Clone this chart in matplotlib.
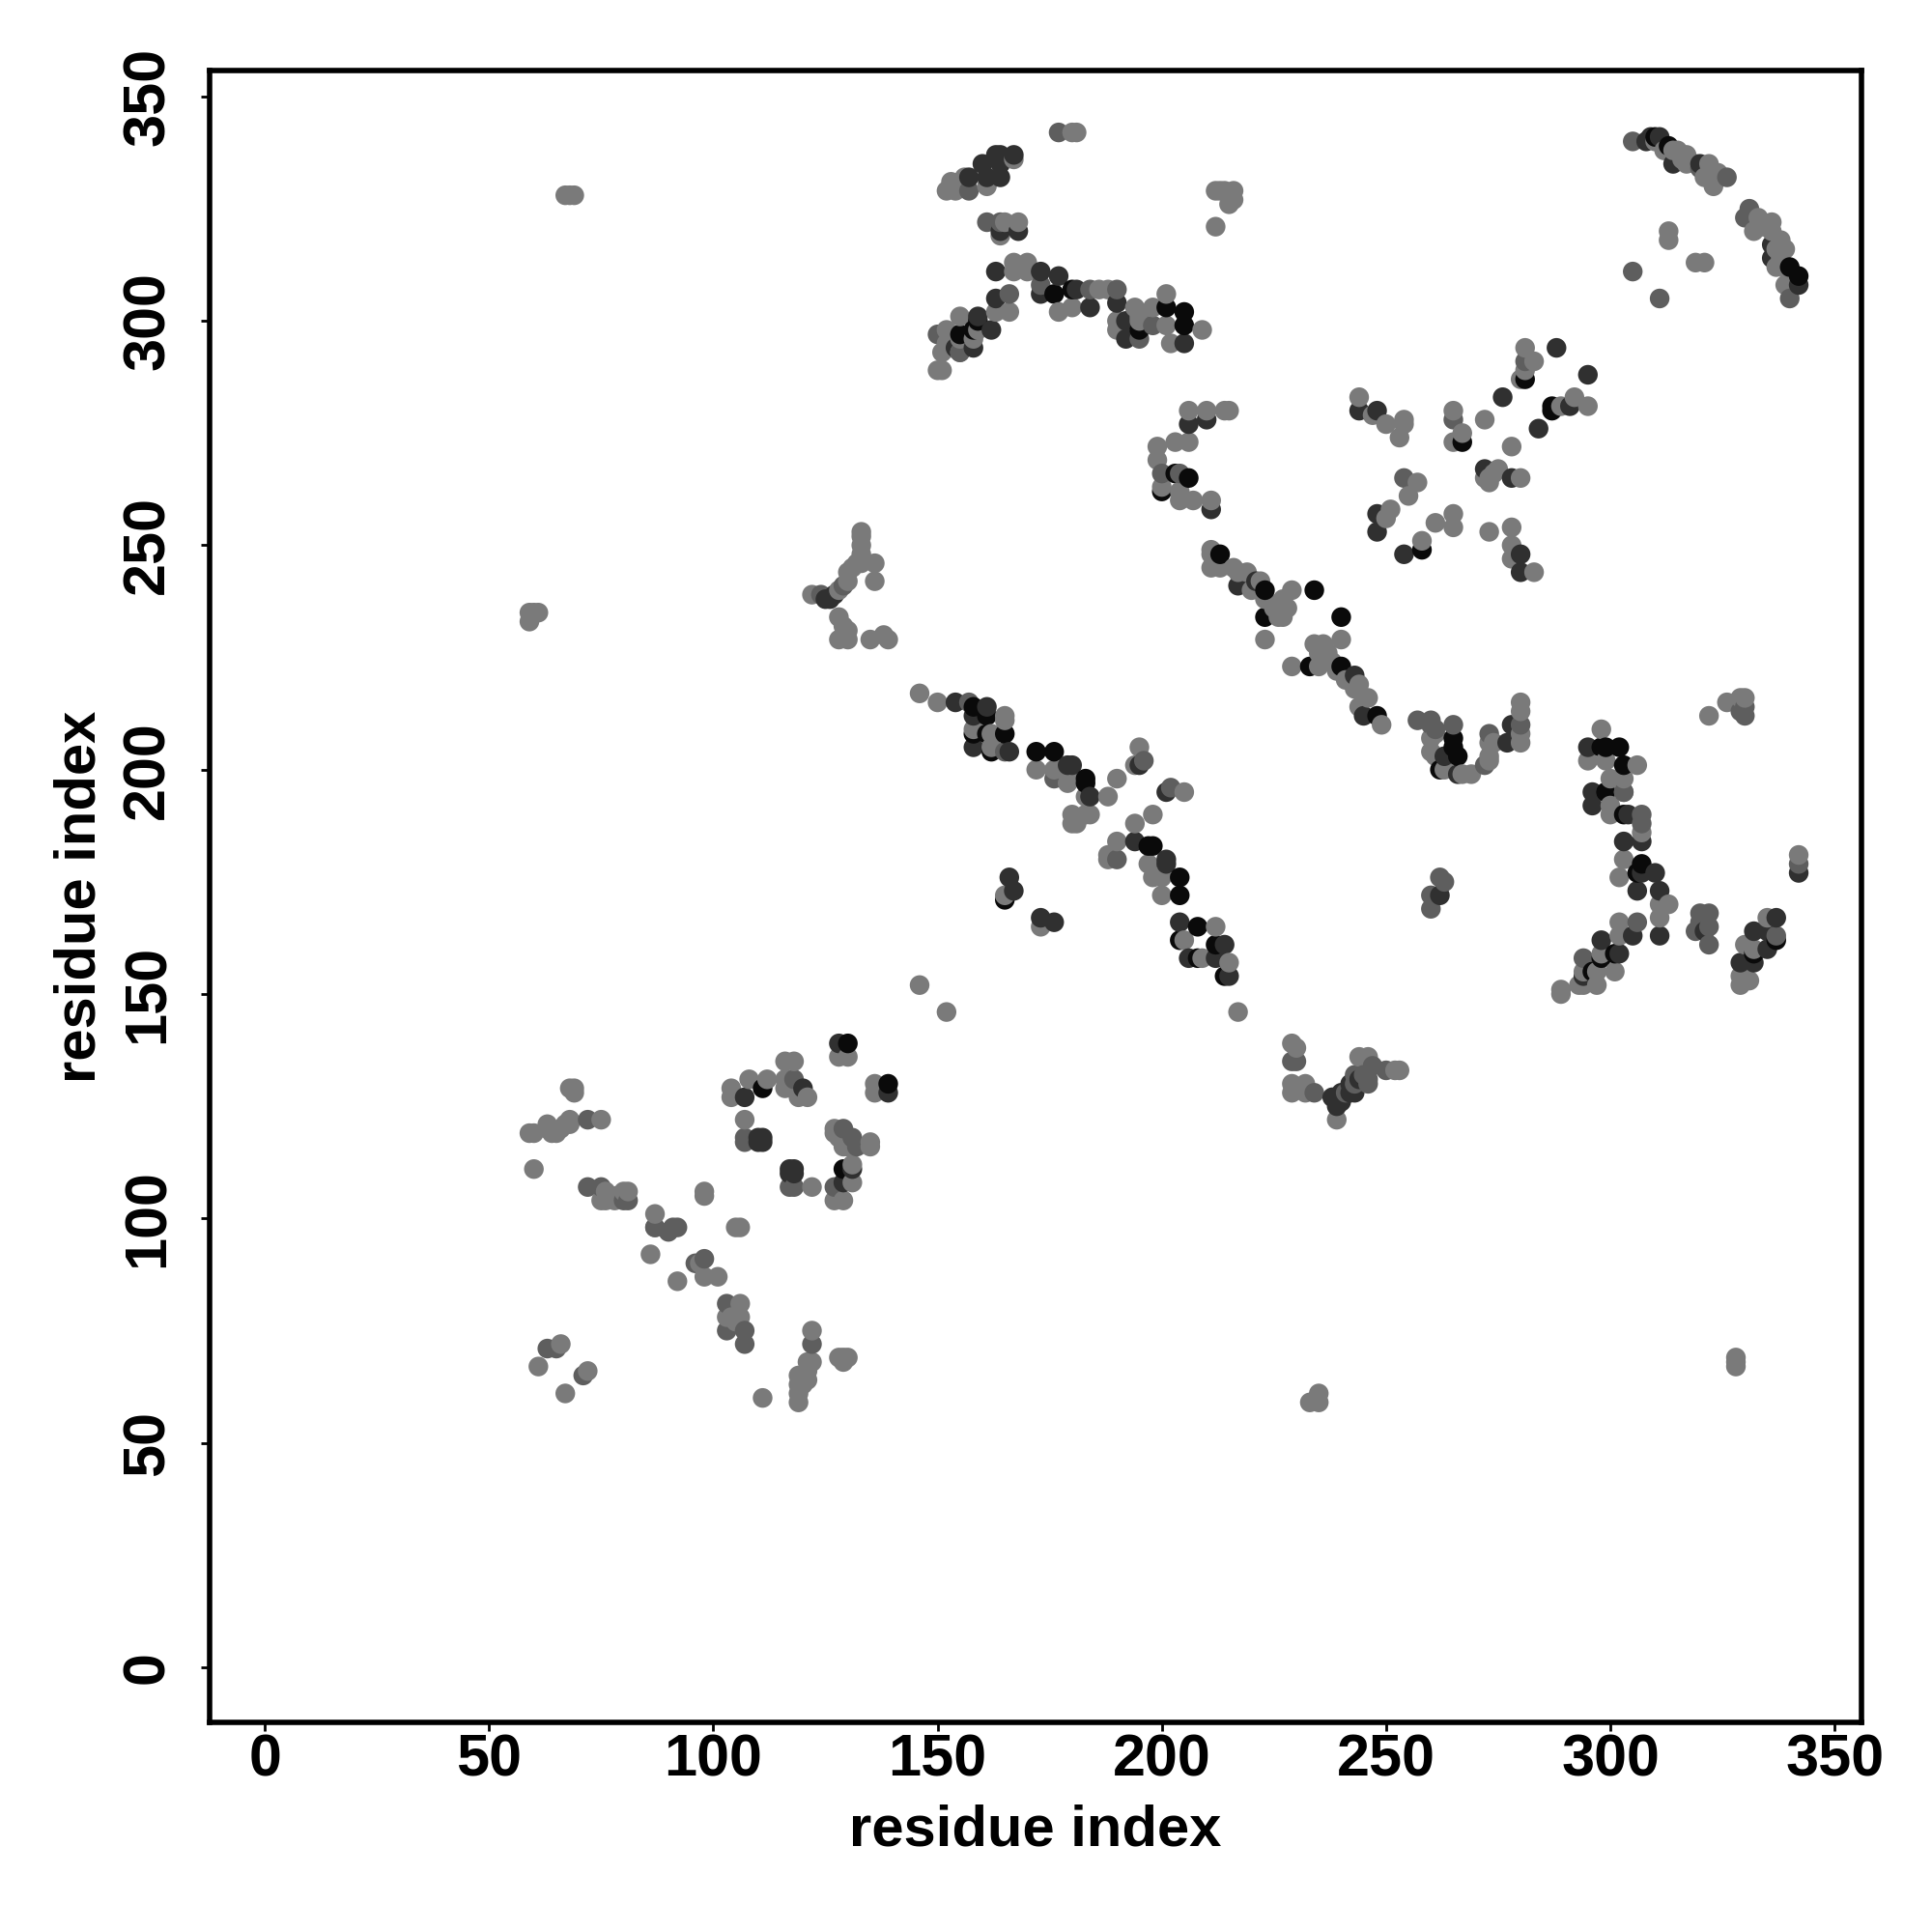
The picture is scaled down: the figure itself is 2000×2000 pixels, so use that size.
import numpy as np
import matplotlib
matplotlib.use("Agg")
import matplotlib.pyplot as plt

# contact pairs, grouped by grey level
light_pts = [
    (59,119),(60,119),(60,111),(63,120),(63,121),(64,119),(65,119),(66,120),(67,121),(68,121),(68,122),
    (68,129),(69,129),(69,128),(75,122),(78,104),(75,104),(76,104),(76,106),(77,105),(78,105),(80,106),(81,106),
    (87,101),(87,98),(86,92),(92,86),(98,106),(98,105),(105,98),(106,98),(98,87),(101,87),(97,90),
    (103,78),(104,78),(105,77),(106,81),(106,78),(66,72),(61,67),(67,61),(72,66),
    (122,75),(121,68),(122,68),(119,65),(120,65),(121,66),(119,63),(120,63),(121,64),(119,59),(119,61),(111,60),
    (128,69),(129,69),(130,69),(129,68),(122,107),(107,122),(104,129),(104,127),(108,131),(112,131),
    (116,135),(118,135),(116,131),(121,127),(119,127),(116,129),(118,129),(128,136),(130,136),(136,130),(136,128),
    (127,120),(127,119),(128,118),(129,116),(130,116),(135,117),(135,116),(131,112),(131,108),(127,104),(129,104),
    (67,328),(68,328),(69,328),(59,235),(60,235),(61,235),(59,233),(233,59),(235,59),(235,61),(328,67),(328,68),(328,69),
    (122,239),(128,240),(130,242),(130,244),(131,245),(132,246),(133,246),(133,248),(133,250),(133,252),(133,253),
    (136,246),(136,242),(128,234),(129,232),(128,229),(130,229),(130,231),(135,229),(138,230),(139,229),
    (146,217),(150,215),(158,209),(162,208),(162,205),(165,212),(165,211),(172,200),(176,200),(179,197),(179,199),
    (183,194),(188,194),(190,198),(195,205),(194,201),(205,195),(198,190),(194,188),(180,190),(180,188),(181,188),
    (183,190),(184,190),(190,184),(188,181),(188,180),(197,179),(198,176),(200,176),(200,172),(165,172),(173,165),
    (205,162),(212,165),(209,158),(215,157),(217,146),(146,152),(152,146),
    (229,139),(230,138),(229,130),(229,128),(232,130),(232,128),(239,122),(244,136),(246,136),(252,133),(253,133),
    (260,207),(261,208),(260,204),(261,203),(263,200),(267,199),(269,199),(273,206),(274,206),(273,203),(273,202),
    (280,215),(280,213),(280,208),(280,206),(298,209),(295,202),(299,202),(306,201),(300,198),(303,198),(303,195),
    (300,192),(300,190),(307,186),(303,180),(302,176),(313,170),(311,170),(311,167),(302,166),(302,163),(298,159),
    (297,155),(301,155),(294,155),(293,152),(294,152),(297,152),(289,151),(289,150),(322,212),(326,215),(329,216),
    (330,216),(342,181),(335,167),(330,161),(332,160),(329,154),(329,152),(331,153),
    (310,340),(312,338),(314,338),(315,338),(316,336),(317,337),(317,335),(319,335),(322,335),(324,333),(321,332),(323,330),
    (333,323),(334,321),(336,322),(332,320),(336,320),(338,318),(337,316),(339,316),(337,312),(338,314),(340,310),(339,308),
    (313,320),(313,318),(319,313),(321,313),
    (281,294),(283,291),(281,289),(280,287),(272,278),(292,283),(295,281),(289,281),(278,272),(244,283),(247,279),
    (250,277),(254,278),(254,277),(253,274),(265,280),(267,275),(265,273),(273,265),(272,265),(275,267),(273,264),
    (280,265),(274,266),(257,264),(255,261),(251,258),(250,256),(265,257),(261,255),(265,254),(258,251),(278,254),(273,253),
    (278,250),(278,247),(283,244),(212,329),(213,329),(214,329),(216,329),(216,327),(215,326),(212,321),
    (206,280),(210,280),(214,280),(215,280),(199,272),(203,273),(206,273),(199,269),(200,263),(204,262),(207,260),(211,260),(204,260),
    (211,249),(211,248),(211,245),(213,245),(216,245),(217,244),(219,244),(220,240),(222,242),(223,238),(225,236),(229,240),(227,238),(226,234),(227,234),(228,236),
    (223,229),(229,223),(240,229),(234,228),(235,226),(237,226),(235,223),(238,224),(239,222),(236,228),(241,220),(244,219),(243,218),(246,216),(244,214),(249,210),
    (177,302),(180,303),(186,307),(188,307),(194,303),(198,303),(201,306),(202,295),(201,299),(195,300),(190,300),(190,298),(195,301),(209,298),
    (180,342),(181,342),(167,336),(161,330),(156,332),(153,331),(152,329),(154,329),(165,322),(168,322),(164,319),
    (167,313),(170,313),(167,311),(170,311),(166,302),(163,302),(155,301),(159,298),(152,298),(155,293),(151,293),(150,289),(151,289),
    (153,294),(152,295),(155,296),(158,296),
]
mid_pts = [
    (72,122),(72,107),(75,107),(80,104),(81,104),(90,97),(91,98),(92,98),(87,98),(98,91),(96,90),(103,81),(103,75),
    (107,75),(107,72),(63,71),(65,71),(71,65),(122,72),(107,118),(107,117),(118,131),(117,107),(118,107),(129,120),
    (131,118),(132,116),(127,107),(124,239),(129,241),(157,215),(176,198),(190,180),(196,202),(202,196),(165,204),(230,135),
    (229,135),(234,128),(247,134),(250,133),(246,130),(243,132),(257,211),(260,210),(260,211),(265,210),(272,201),
    (273,208),(280,210),(299,195),(303,195),(307,190),(307,188),(294,158),(306,166),(320,168),(322,168),(319,164),(322,165),(320,166),(322,161),
    (330,214),(330,212),(329,213),(342,179),(337,163),(260,172),(260,169),(262,176),(263,175),(305,340),(320,334),(326,332),
    (331,325),(330,323),(340,305),(305,311),(311,305),(281,291),(265,278),(254,265),(261,209),(204,266),(200,266),(150,297),
    (161,322),(164,322),(198,299),(195,296),(184,307),(190,307),(173,308),(157,329),(166,306),(155,293),(177,342),
    (241,128),(243,130),(245,132),(246,131),
]
dark_pts = [
    (117,111),(118,111),(117,110),(118,110),(110,118),(111,118),(110,117),(111,117),(107,127),(120,129),(128,139),(139,128),
    (129,108),(131,111),(125,238),(126,238),(127,239),(154,215),(158,212),(161,214),(158,205),(166,204),(179,201),(180,201),
    (184,194),(195,201),(201,195),(194,184),(201,180),(201,179),(166,176),(167,173),(173,167),(176,166),(204,166),(206,158),
    (214,161),(212,158),(215,154),(238,127),(239,125),(239,127),(240,126),(240,128),(242,128),(242,130),
    (243,128),(244,131),(263,203),(266,199),(278,210),(277,206),(262,172),(295,205),(296,195),(296,192),(304,190),(307,184),(303,184),
    (307,177),(310,177),(306,173),(311,173),(311,163),(305,163),(298,162),(302,159),(294,154),(321,164),(337,167),(332,164),(335,164),(335,160),
    (332,157),(329,157),(342,177),(342,308),(336,317),(336,314),(309,341),(311,341),(308,340),(314,335),(320,335),
    (288,294),(276,283),(295,288),(291,281),(284,276),(244,280),(248,280),(248,257),(248,253),(254,248),(280,248),(280,244),(278,265),(272,267),
    (206,277),(210,278),(211,258),(221,242),(217,241),(243,221),(245,212),(163,311),(173,311),(177,310),(173,306),(181,307),(184,303),(190,304),
    (192,296),(192,300),(205,295),(167,337),(163,337),(164,337),(160,335),(164,335),(161,332),(164,332),(157,332),(168,320),(164,320),
    (163,305),(159,301),(162,298),(158,294),(154,294),
]
black_pts = [
    (130,139),(139,130),(111,129),(129,111),(158,214),(158,208),(161,212),(165,208),(161,208),(162,204),(172,204),(176,204),
    (183,198),(183,197),(197,183),(198,183),(204,176),(204,172),(165,171),(204,162),(208,165),(212,161),(208,158),(214,154),
    (265,207),(265,205),(266,203),(262,200),(298,205),(299,205),(302,205),(303,201),(299,195),(303,190),(307,179),(306,177),
    (301,159),(298,158),(296,155),(337,162),(332,159),(313,339),(340,312),(342,310),(281,287),(287,281),(287,280),(267,273),(258,249),
    (203,266),(206,265),(200,262),(213,248),(223,240),(234,240),(223,234),(240,234),(233,223),(240,223),(248,212),
    (201,303),(205,302),(205,299),(195,298),(180,307),(176,306),(158,298),(155,297),(159,300),(310,341),
]

tick_vals = [0, 50, 100, 150, 200, 250, 300, 350]
grey_levels = ["#7a7a7a", "#5e5e5e", "#303030", "#0a0a0a"]

pts = []
cols = []
for group, g in zip([light_pts, mid_pts, dark_pts, black_pts], grey_levels):
    pts += group
    cols += [g] * len(group)

# later residues sit on top of earlier ones
order = sorted(range(len(pts)), key=lambda k: pts[k])
xs = np.array([pts[k][0] for k in order])
ys = np.array([pts[k][1] for k in order])
cs = [cols[k] for k in order]

plt.rcParams["font.family"] = ["Liberation Sans", "DejaVu Sans"]
plt.rcParams["font.weight"] = "bold"

fig = plt.figure(figsize=(20, 20), dpi=100)
ax = fig.add_axes([0.1085, 0.1085, 0.855, 0.855])
ax.scatter(xs, ys, s=215, c=cs, linewidths=0, clip_on=True)

ax.set_xlim(-12.3, 356)
ax.set_ylim(-12.3, 355.8)
ax.set_xticks(tick_vals)
ax.set_yticks(tick_vals)
ax.tick_params(axis="x", length=6.3, width=2, labelsize=44, pad=2)
ax.tick_params(axis="y", length=6.3, width=2, labelsize=44, pad=18.5)
for lab in ax.get_yticklabels():
    lab.set_rotation(90)
    lab.set_rotation_mode("anchor")
    lab.set_ha("center")
    lab.set_va("bottom")
for s in ax.spines.values():
    s.set_linewidth(4)

ax.set_xlabel("residue index", fontsize=43, fontweight="bold")
ax.set_ylabel("residue index", fontsize=43, fontweight="bold")
ax.xaxis.set_label_coords(0.5, -0.0495)
ax.yaxis.set_label_coords(-0.0625, 0.5)

fig.savefig("out.png", dpi=100)
